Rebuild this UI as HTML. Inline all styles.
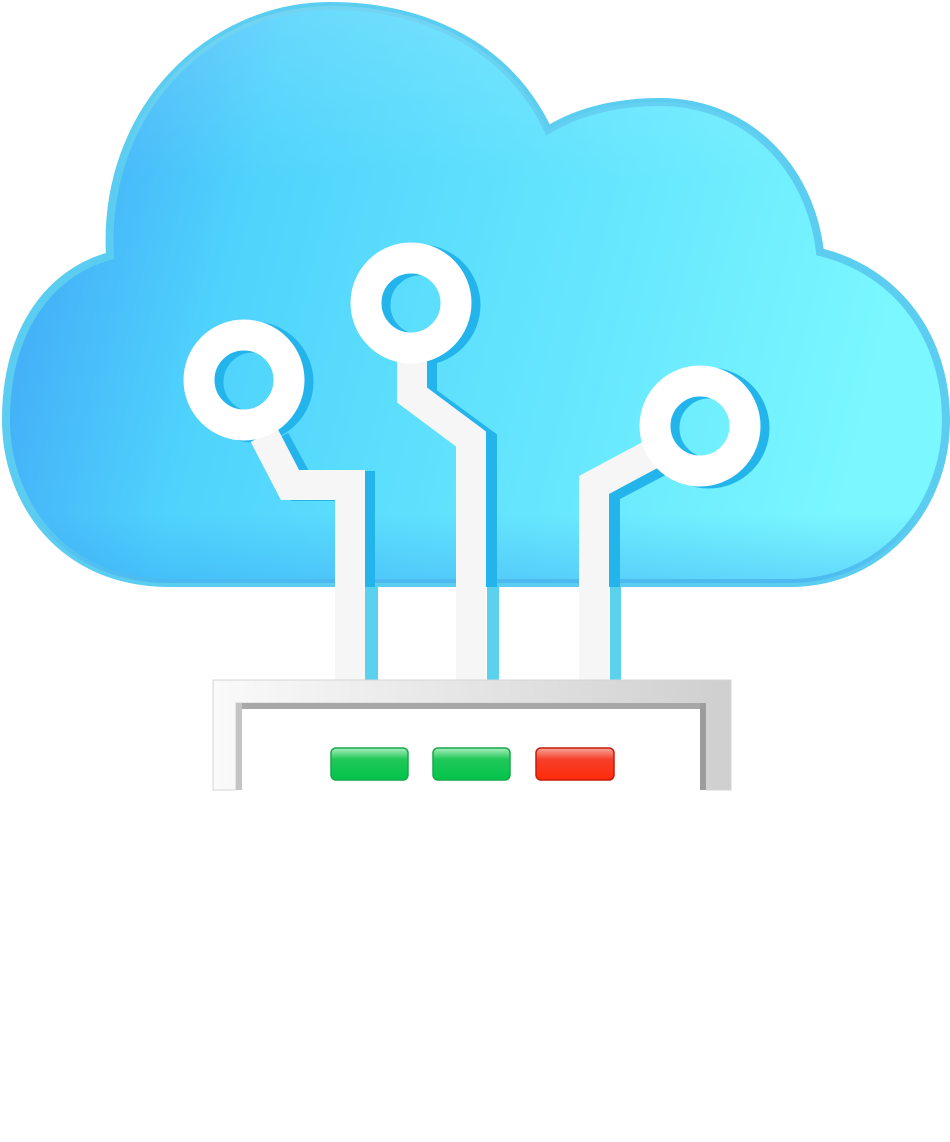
<!DOCTYPE html>
<html><head><meta charset="utf-8"><style>html,body{margin:0;padding:0;background:#fff;width:950px;height:1142px;overflow:hidden}</style></head>
<body>
<svg width="950" height="1142" viewBox="0 0 950 1142" xmlns="http://www.w3.org/2000/svg">
<defs>
<linearGradient id="cg" x1="0" y1="0" x2="1" y2="0.15">
<stop offset="0" stop-color="#3f9ff6"/>
<stop offset="0.3" stop-color="#4fd3fc"/>
<stop offset="1" stop-color="#7af7ff"/>
</linearGradient>
<linearGradient id="hl" x1="0" y1="0" x2="0" y2="1">
<stop offset="0" stop-color="#fff" stop-opacity="0.15"/>
<stop offset="0.3" stop-color="#fff" stop-opacity="0"/>
<stop offset="0.88" stop-color="#2a8ef0" stop-opacity="0"/>
<stop offset="1" stop-color="#2a8ef0" stop-opacity="0.3"/>
</linearGradient>
<linearGradient id="fg" x1="0" y1="0" x2="1" y2="0">
<stop offset="0" stop-color="#fafafa"/><stop offset="1" stop-color="#cfcfcf"/>
</linearGradient>
<linearGradient id="gg" x1="0" y1="0" x2="0" y2="1">
<stop offset="0" stop-color="#a9efbf"/><stop offset="0.35" stop-color="#22c85a"/><stop offset="1" stop-color="#00c44a"/>
</linearGradient>
<linearGradient id="rg" x1="0" y1="0" x2="0" y2="1">
<stop offset="0" stop-color="#f7a79a"/><stop offset="0.35" stop-color="#f6402a"/><stop offset="1" stop-color="#ff2a0a"/>
</linearGradient>
</defs>
<path d="M170,583 C60,583 6,500 6,420 C6,330 50,272 110,256 C102,110 210,6 330,6 C430,6 510,50 548,130 C580,110 620,102 660,102 C745,102 810,165 820,252 C900,272 946,340 946,420 C946,510 880,583 790,583 Z" fill="url(#cg)" stroke="#5bcdf0" stroke-width="8"/>
<path d="M170,583 C60,583 6,500 6,420 C6,330 50,272 110,256 C102,110 210,6 330,6 C430,6 510,50 548,130 C580,110 620,102 660,102 C745,102 810,165 820,252 C900,272 946,340 946,420 C946,510 880,583 790,583 Z" fill="url(#hl)"/>
<g fill="#5ad2ee">
<rect x="362" y="587" width="16" height="93"/>
<rect x="487" y="587" width="12" height="93"/>
<rect x="610" y="587" width="11" height="93"/>
</g>
<g fill="none" stroke="#24b4ec" stroke-width="30">
<path d="M275,440 L300,486 L360,486 L360,587"/>
<path d="M422,360 L422,398 L482,442 L482,587"/>
<path d="M662,460 L605,490 L605,587"/>
</g>
<g fill="none" stroke="#24b4ec" stroke-width="31">
<circle cx="253" cy="382" r="45"/>
<circle cx="420" cy="305" r="45"/>
<circle cx="709" cy="428" r="45"/>
</g>
<g fill="none" stroke="#f6f6f6" stroke-width="30" stroke-linejoin="miter">
<path d="M264,435 L290,485 L350,485 L350,692"/>
<path d="M412,358 L412,395 L471,439 L471,692"/>
<path d="M650,455 L594,485 L594,692"/>
</g>
<g fill="none" stroke="#fff" stroke-width="31">
<circle cx="244" cy="380" r="45"/>
<circle cx="411" cy="303" r="45"/>
<circle cx="700" cy="426" r="45"/>
</g>
<path d="M213,790 L213,680 L731,680 L731,790 L706,790 L706,703 L236,703 L236,790 Z" fill="url(#fg)" stroke="#d4d4d4" stroke-width="1"/>
<rect x="236" y="703" width="470" height="6" fill="#a8a8a8"/>
<rect x="236" y="703" width="6" height="87" fill="#c4c4c4"/>
<rect x="700" y="703" width="6" height="87" fill="#9c9c9c"/>
<rect x="242" y="709" width="458" height="81" fill="#fff"/>
<rect x="331" y="748" width="77" height="32" rx="5" fill="url(#gg)" stroke="#17a84a" stroke-width="1.5"/>
<rect x="433" y="748" width="77" height="32" rx="5" fill="url(#gg)" stroke="#17a84a" stroke-width="1.5"/>
<rect x="536" y="748" width="78" height="32" rx="5" fill="url(#rg)" stroke="#c81a0a" stroke-width="1.5"/>
</svg>
</body></html>
